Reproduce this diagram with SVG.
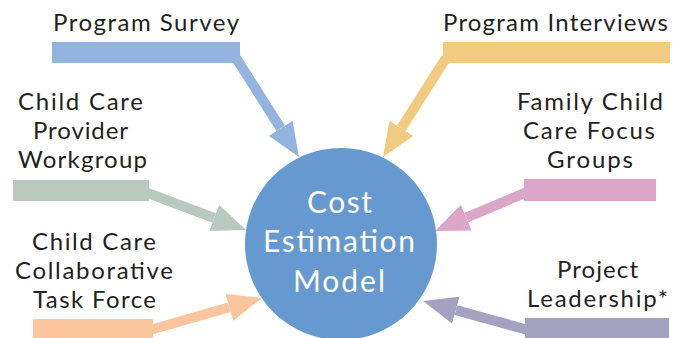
<svg xmlns="http://www.w3.org/2000/svg" width="683" height="338" viewBox="0 0 683 338">
<style>
.lbl{font-family:"Lato","Liberation Sans",sans-serif;font-size:24px;fill:#231f20;text-anchor:middle}
.ctr{font-family:"Lato","Liberation Sans",sans-serif;font-size:30px;fill:#ffffff;text-anchor:middle}
.sh{stroke-width:10;fill:none;stroke-linecap:butt}
</style>
<defs>
<marker id="hBlue" markerUnits="userSpaceOnUse" markerWidth="36" markerHeight="28" refX="0" refY="14" orient="auto"><path d="M0,0 L34,14 L0,28 z" fill="#93b4df"/></marker>
<marker id="hGold" markerUnits="userSpaceOnUse" markerWidth="36" markerHeight="28" refX="0" refY="14" orient="auto"><path d="M0,0 L34,14 L0,28 z" fill="#f2ca80"/></marker>
<marker id="hGrey" markerUnits="userSpaceOnUse" markerWidth="36" markerHeight="28" refX="0" refY="14" orient="auto"><path d="M0,0 L34,14 L0,28 z" fill="#bac9bf"/></marker>
<marker id="hPink" markerUnits="userSpaceOnUse" markerWidth="36" markerHeight="28" refX="0" refY="14" orient="auto"><path d="M0,0 L34,14 L0,28 z" fill="#dba6c8"/></marker>
<marker id="hPeach" markerUnits="userSpaceOnUse" markerWidth="36" markerHeight="28" refX="0" refY="14" orient="auto"><path d="M0,0 L34,14 L0,28 z" fill="#fbc59e"/></marker>
<marker id="hLav" markerUnits="userSpaceOnUse" markerWidth="36" markerHeight="28" refX="0" refY="14" orient="auto"><path d="M0,0 L34,14 L0,28 z" fill="#a5a1c0"/></marker>
</defs>
<rect width="683" height="338" fill="#ffffff"/>
<g id="connectors">
<line class="sh" x1="236" y1="58" x2="280.7" y2="128.3" stroke="#93b4df" marker-end="url(#hBlue)"/>
<line class="sh" x1="446" y1="58" x2="401.3" y2="128.3" stroke="#f2ca80" marker-end="url(#hGold)"/>
<line class="sh" x1="145" y1="192" x2="214.2" y2="218" stroke="#bac9bf" marker-end="url(#hGrey)"/>
<line class="sh" x1="527" y1="192" x2="466.3" y2="217.7" stroke="#dba6c8" marker-end="url(#hPink)"/>
<line class="sh" x1="150" y1="330" x2="229.3" y2="307.3" stroke="#fbc59e" marker-end="url(#hPeach)"/>
<line class="sh" x1="528" y1="330" x2="455.8" y2="310.1" stroke="#a5a1c0" marker-end="url(#hLav)"/>
</g>
<g id="program-survey">
<rect x="52" y="42" width="188" height="21" fill="#93b4df"/>
<text class="lbl" x="146" y="31" textLength="186">Program Survey</text>
</g>
<g id="program-interviews">
<rect x="443" y="42" width="227" height="21" fill="#f2ca80"/>
<text class="lbl" x="555.5" y="31" textLength="225">Program Interviews</text>
</g>
<g id="provider-workgroup">
<rect x="13" y="180" width="136" height="21" fill="#bac9bf"/>
<text class="lbl" x="80.5" y="110" textLength="125">Child Care</text>
<text class="lbl" x="80.5" y="139" textLength="95">Provider</text>
<text class="lbl" x="82.5" y="168" textLength="129">Workgroup</text>
</g>
<g id="family-focus-groups">
<rect x="524" y="179" width="132" height="22" fill="#dba6c8"/>
<text class="lbl" x="590" y="110" textLength="146">Family Child</text>
<text class="lbl" x="589" y="139" textLength="132">Care Focus</text>
<text class="lbl" x="590" y="168" textLength="86">Groups</text>
</g>
<g id="collaborative-task-force">
<rect x="33" y="319" width="120" height="20" fill="#fbc59e"/>
<text class="lbl" x="94" y="250" textLength="124">Child Care</text>
<text class="lbl" x="94" y="279" textLength="158">Collaborative</text>
<text class="lbl" x="94.5" y="308" textLength="123">Task Force</text>
</g>
<g id="project-leadership">
<rect x="525" y="318" width="144" height="21" fill="#a5a1c0"/>
<text class="lbl" x="597.5" y="278" textLength="81">Project</text>
<text class="lbl" x="597.5" y="307" textLength="141">Leadership*</text>
</g>
<g id="cost-model">
<circle cx="341" cy="244" r="96" fill="#6699d0"/>
<text class="ctr" x="339.5" y="213" textLength="65">Cost</text>
<text class="ctr" x="339" y="252" textLength="152">Estimation</text>
<text class="ctr" x="339" y="292" textLength="92">Model</text>
</g>
</svg>
